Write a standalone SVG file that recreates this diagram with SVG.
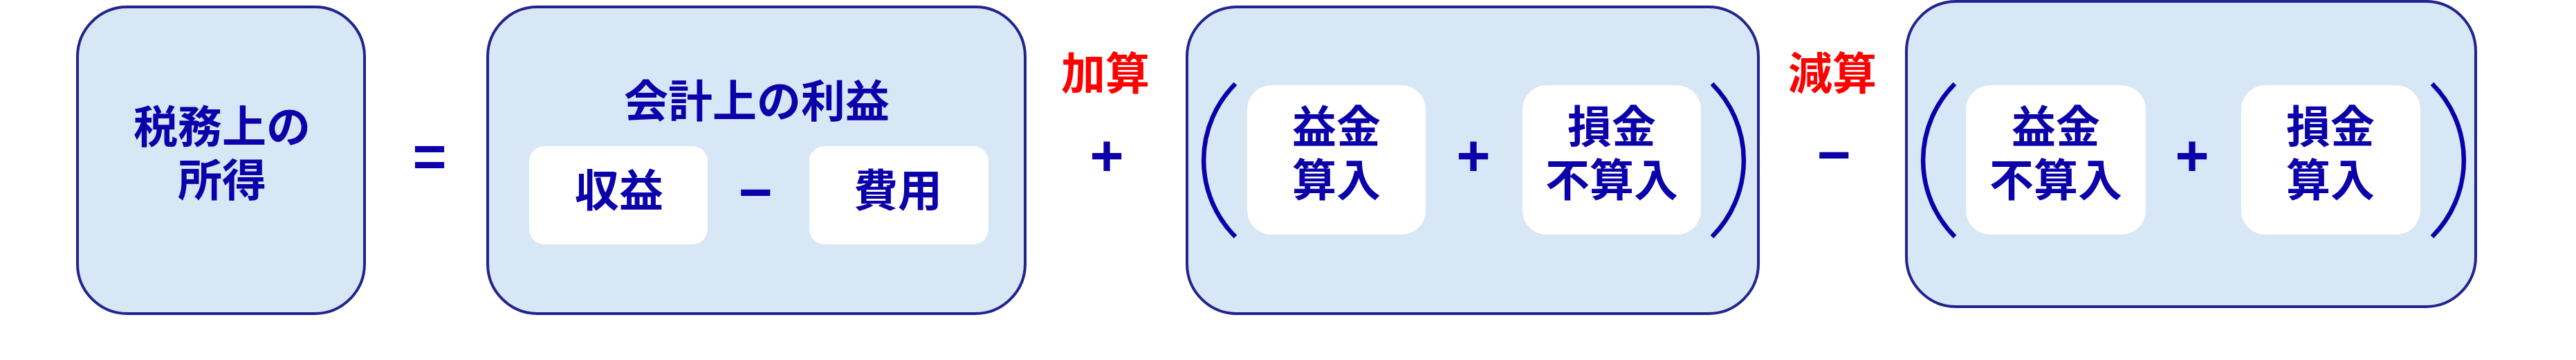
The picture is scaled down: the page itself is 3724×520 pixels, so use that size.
<svg xmlns="http://www.w3.org/2000/svg" width="3724" height="520" viewBox="0 0 3724 520">
<style>
.outer{fill:#d8e7f5;stroke:#23238e;stroke-width:4}
.inner{fill:#ffffff;stroke:none}
.t{font-family:"Noto Sans CJK JP","Noto Sans CJK SC",sans-serif;font-weight:700;font-size:64px;fill:#0b00a9;text-anchor:middle}
.red{fill:#ff0000}
.op{font-family:"Liberation Sans",Arial,sans-serif;font-weight:700;font-size:84px;fill:#0b00a9;text-anchor:middle}
.paren{fill:none;stroke:#0b00a9;stroke-width:6.5}
</style>
<rect width="3724" height="520" fill="#ffffff"/>
<g id="tax-income">
  <rect class="outer" x="112" y="10" width="415" height="443" rx="72" ry="72"/>
  <text class="t" x="321" y="206"><tspan x="321" y="206">税務上の</tspan><tspan x="321" y="283">所得</tspan></text>
</g>
<g id="accounting-profit">
  <rect class="outer" x="705" y="10" width="777" height="443" rx="72" ry="72"/>
  <text class="t" x="1094" y="169">会計上の利益</text>
  <g id="revenue">
    <rect class="inner" x="765" y="211" width="258" height="142" rx="22" ry="22"/>
    <text class="t" x="895" y="298">収益</text>
  </g>
  <g id="expense">
    <rect class="inner" x="1170" y="211" width="259" height="142" rx="22" ry="22"/>
    <text class="t" x="1298" y="298">費用</text>
  </g>
</g>
<g id="addition">
  <rect class="outer" x="1716" y="10" width="826" height="443" rx="72" ry="72"/>
  <path class="paren" d="M1786,121 A156,156 0 0 0 1786,342"/>
  <path class="paren" d="M2475,121 A156,156 0 0 1 2475,342"/>
  <g id="add-1">
    <rect class="inner" x="1803" y="123" width="258" height="216" rx="35" ry="35"/>
    <text class="t" x="1932" y="206"><tspan x="1932" y="206">益金</tspan><tspan x="1932" y="283">算入</tspan></text>
  </g>
  <g id="add-2">
    <rect class="inner" x="2201" y="123" width="258" height="216" rx="35" ry="35"/>
    <text class="t" x="2330" y="206"><tspan x="2330" y="206">損金</tspan><tspan x="2330" y="283">不算入</tspan></text>
  </g>
</g>
<g id="deduction">
  <rect class="outer" x="2756" y="2" width="823" height="441" rx="72" ry="72"/>
  <path class="paren" d="M2826,121 A156,156 0 0 0 2826,342"/>
  <path class="paren" d="M3516,121 A156,156 0 0 1 3516,342"/>
  <g id="ded-1">
    <rect class="inner" x="2842" y="123" width="260" height="216" rx="35" ry="35"/>
    <text class="t" x="2972" y="206"><tspan x="2972" y="206">益金</tspan><tspan x="2972" y="283">不算入</tspan></text>
  </g>
  <g id="ded-2">
    <rect class="inner" x="3240" y="123" width="259" height="216" rx="35" ry="35"/>
    <text class="t" x="3369" y="206"><tspan x="3369" y="206">損金</tspan><tspan x="3369" y="283">算入</tspan></text>
  </g>
</g>
<g id="labels">
  <text class="t red" x="1598" y="129">加算</text>
  <text class="t red" x="2649" y="129">減算</text>
</g>
<g id="connectors">
  <text class="op" x="621" y="255">=</text>
  <text class="op" x="1092" y="306">−</text>
  <text class="op" x="1600" y="254">+</text>
  <text class="op" x="2130" y="254">+</text>
  <text class="op" x="2651" y="252">−</text>
  <text class="op" x="3169" y="254">+</text>
</g>
</svg>
